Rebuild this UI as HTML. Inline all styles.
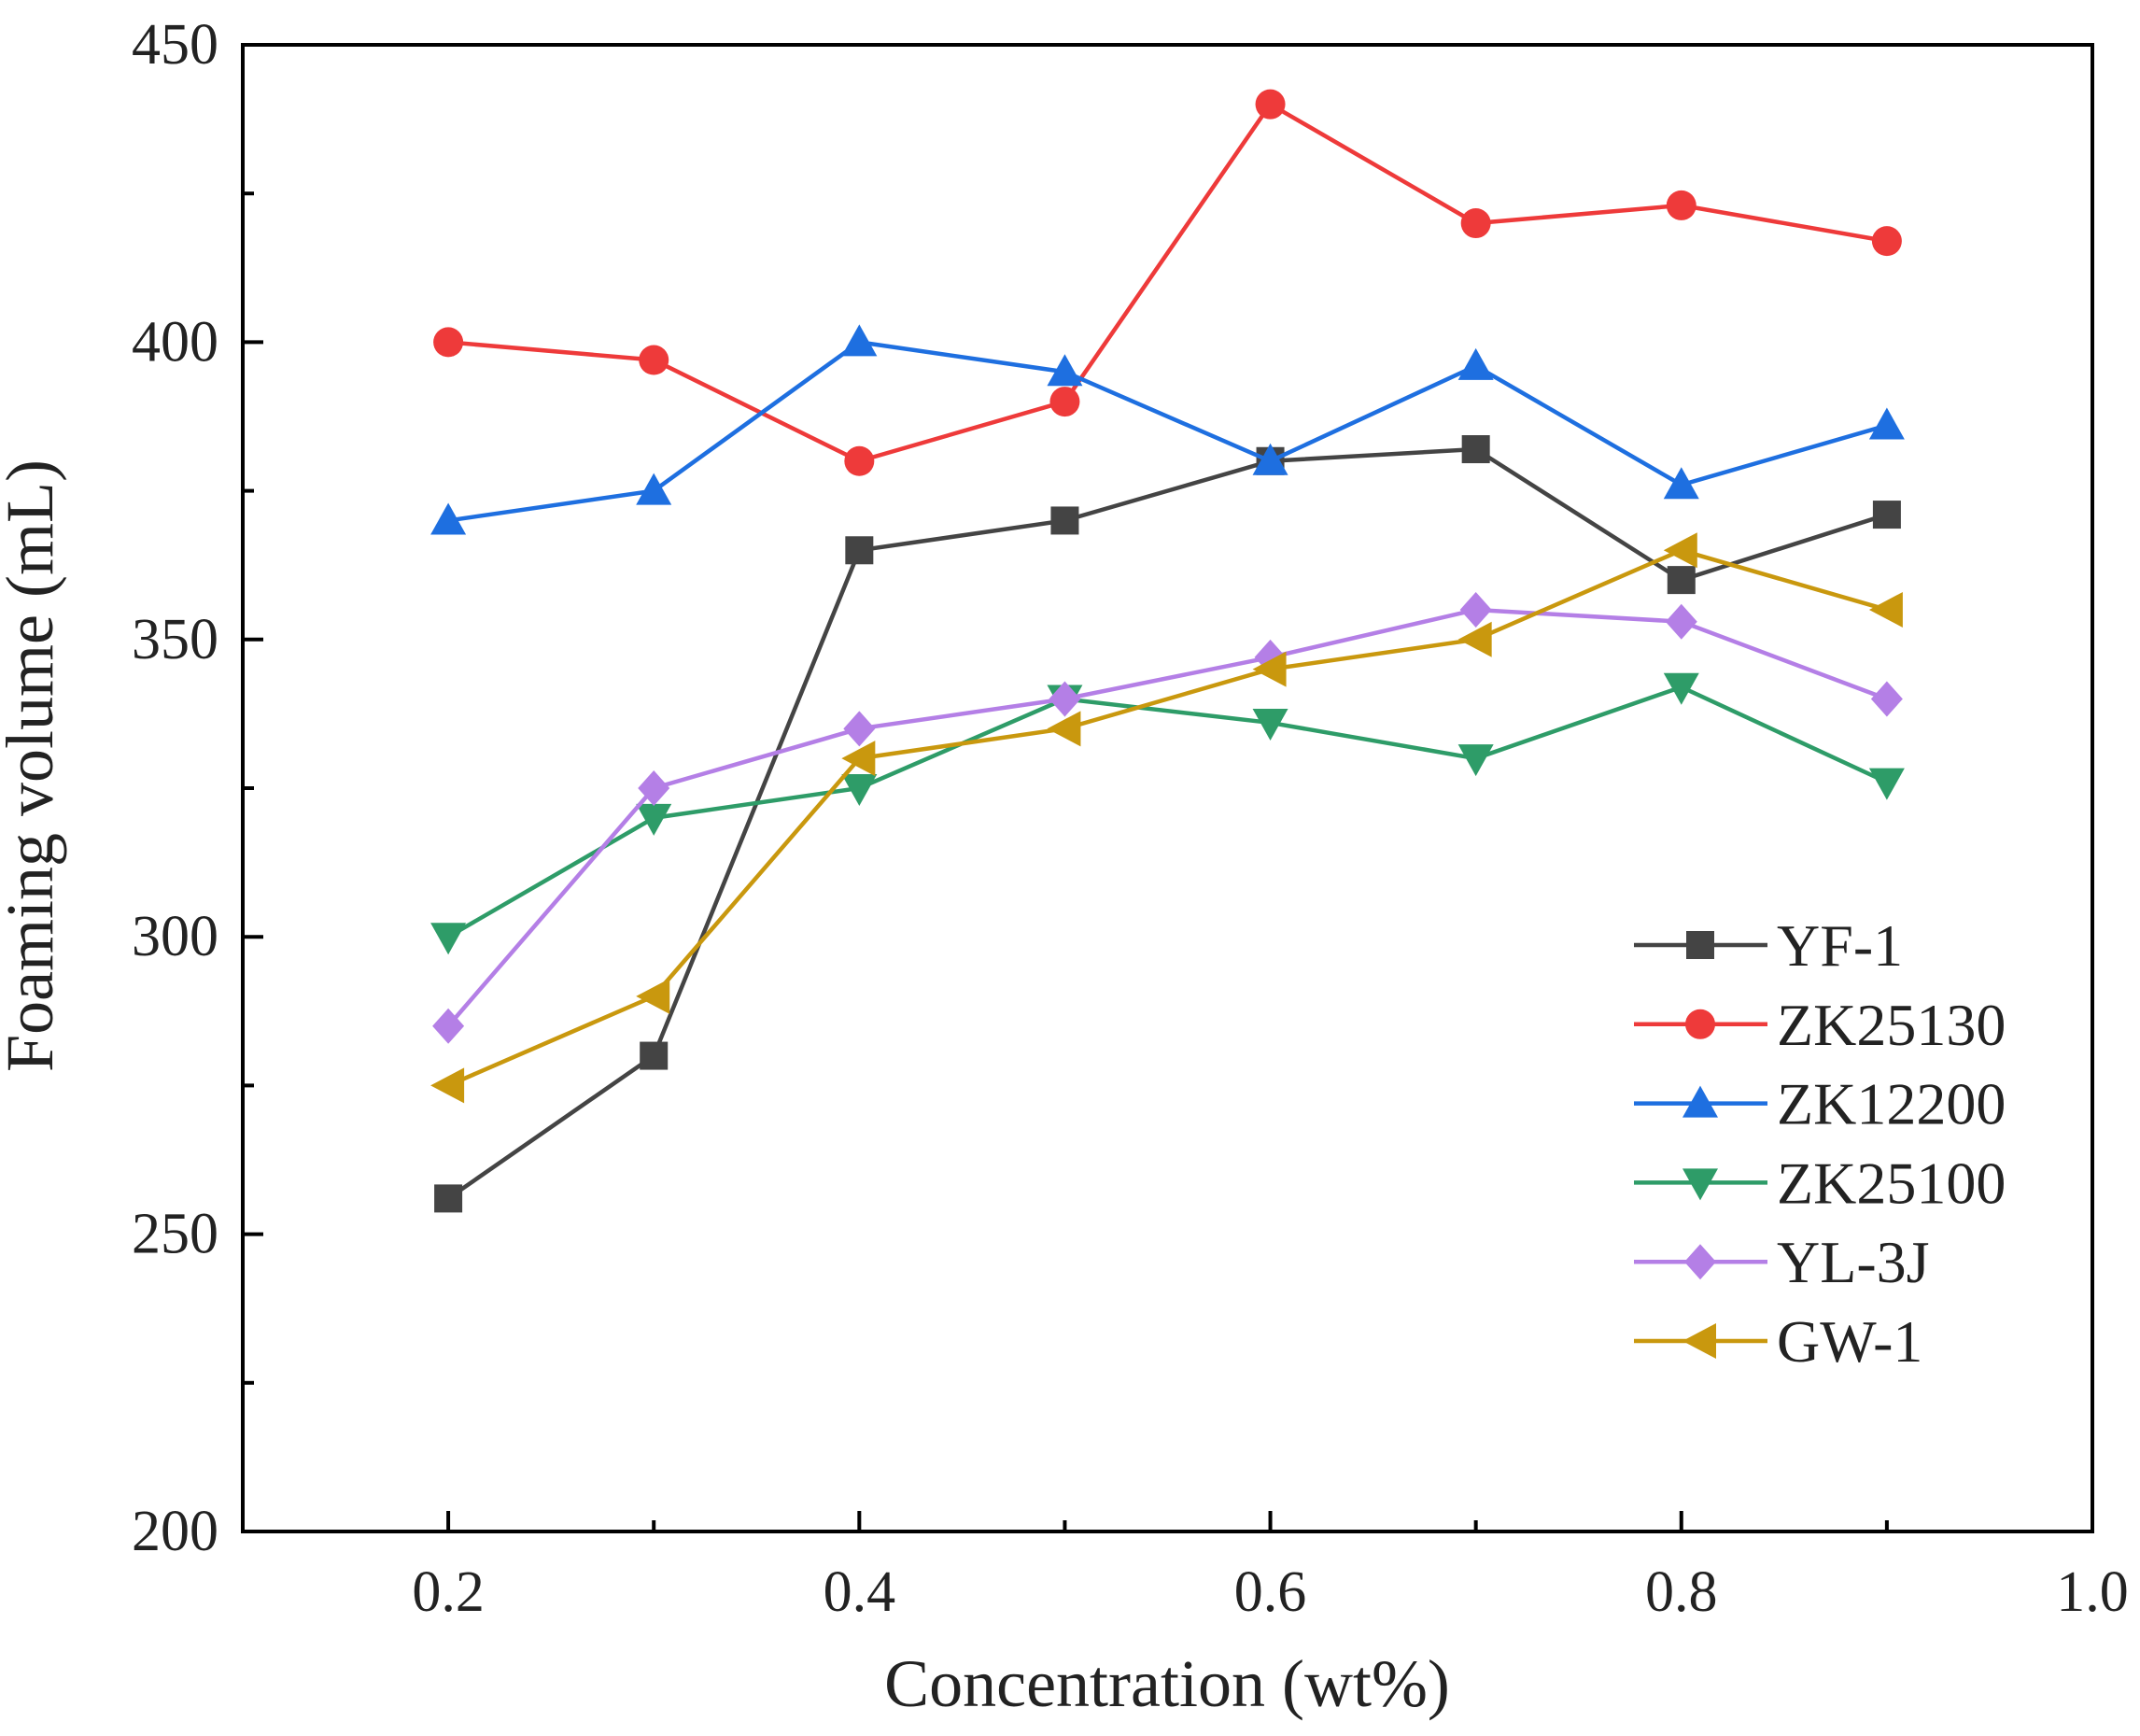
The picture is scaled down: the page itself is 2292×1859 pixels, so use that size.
<!DOCTYPE html>
<html><head><meta charset="utf-8"><style>
html,body{margin:0;padding:0;background:#fff;}
svg{display:block;font-family:"Liberation Serif",serif;}
</style></head><body>
<svg id="chart" width="2292" height="1859" viewBox="0 0 2292 1859"></svg>
<script>
const categories=[0.2,0.3,0.4,0.5,0.6,0.7,0.8,0.9];
const seriesNames=["YF-1","ZK25130","ZK12200","ZK25100","YL-3J","GW-1"];
const yf1=[256,280,365,370,380,382,360,371];
const zk25130=[400,397,380,390,440,420,423,417];
const zk12200=[370,375,400,395,380,396,376,386];
const zk25100=[300,320,325,340,336,330,342,326];
const yl3j=[285,325,335,340,347,355,353,340];
const gw1=[275,290,330,335,345,350,365,355];
const xTicks=["0.2","0.4","0.6","0.8","1.0"];
const xTickVals=[0.2,0.4,0.6,0.8,1.0];
const yTicks=["200","250","300","350","400","450"];
const yTickVals=[200,250,300,350,400,450];

const NS="http://www.w3.org/2000/svg";
const svg=document.getElementById('chart');
const L=260,R=2241,T=48,B=1640;
const xs=v=>L+(v-0.1)/(1.0-0.1)*(R-L);
const ys=v=>B-(v-200)/(450-200)*(B-T);
function mk(tag,attrs,parent){const e=document.createElementNS(NS,tag);for(const k in attrs)e.setAttribute(k,attrs[k]);(parent||svg).appendChild(e);return e;}
const colors=["#444444","#ee3a3a","#1e6fe0","#2e9c68","#b47fe6","#c9980e"];
const shapes=["square","circle","up","down","diamond","left"];
const allData=[yf1,zk25130,zk12200,zk25100,yl3j,gw1];

function marker(shape,cx,cy,color,g){
  const s=17;let e;
  if(shape==="square")e=mk('rect',{x:cx-s+2,y:cy-s+2,width:2*s-4,height:2*s-4,fill:color},g);
  else if(shape==="circle")e=mk('circle',{cx:cx,cy:cy,r:s-1,fill:color},g);
  else{let p;
    if(shape==="up")p=[[cx,cy-s-2],[cx+s+2,cy+s-2],[cx-s-2,cy+s-2]];
    else if(shape==="down")p=[[cx,cy+s+2],[cx+s+2,cy-s+2],[cx-s-2,cy-s+2]];
    else if(shape==="diamond")p=[[cx,cy-s-2],[cx+s,cy],[cx,cy+s+2],[cx-s,cy]];
    else p=[[cx-s-2,cy],[cx+s,cy-s-2],[cx+s,cy+s+2]];
    e=mk('polygon',{points:p.map(q=>q.join(',')).join(' '),fill:color},g);}
  return e;
}

// series
allData.forEach((d,i)=>{
  const g=mk('g',{});
  
  
  const pl=mk('polyline',{points:d.map((v,j)=>xs(categories[j])+','+ys(v)).join(' '),fill:'none',stroke:colors[i],'stroke-width':4.5},g);
  
  
  d.forEach((v,j)=>{const m=marker(shapes[i],xs(categories[j]),ys(v),colors[i],g);
    
    });
});

// axes frame
const frame=mk('rect',{x:L,y:T,width:R-L,height:B-T,fill:'none',stroke:'#000','stroke-width':4});



// y ticks
for(let v=200;v<=450;v+=25){
  const major=(v%50===0);
  const t=mk('line',{x1:L,x2:L+(major?22:12),y1:ys(v),y2:ys(v),stroke:'#000','stroke-width':4});
  
  
}
yTicks.forEach((lab,i)=>{
  const t=mk('text',{x:234,y:ys(yTickVals[i])+20,'text-anchor':'end','font-size':62,fill:'#222'});
  t.textContent=lab;
  
  
});
// x ticks
for(let k=2;k<=9;k++){
  const v=k/10;const major=(k%2===0);
  const t=mk('line',{x1:xs(v),x2:xs(v),y1:B,y2:B-(major?22:12),stroke:'#000','stroke-width':4});
  
  
}
xTicks.forEach((lab,i)=>{
  const t=mk('text',{x:xs(xTickVals[i]),y:1725,'text-anchor':'middle','font-size':62,fill:'#222'});
  t.textContent=lab;
  
  
});
const xt=mk('text',{x:1250,y:1827,'text-anchor':'middle','font-size':72,fill:'#222'});
xt.textContent="Concentration (wt%)";


const yt=mk('text',{x:0,y:0,'text-anchor':'middle','font-size':72,fill:'#222',transform:'translate(56,820) rotate(-90)'});
yt.textContent="Foaming volume (mL)";



// legend
const lg=mk('g',{});


seriesNames.forEach((n,i)=>{
  const y=1012+84.8*i;
  const e=mk('g',{},lg);
  
  
  mk('line',{x1:1750,x2:1893,y1:y,y2:y,stroke:colors[i],'stroke-width':4.5},e);
  marker(shapes[i],1821,y,colors[i],e);
  const t=mk('text',{x:1903,y:y+22,'font-size':64,fill:'#222'},e);
  t.textContent=n;
});
</script>
</body></html>
